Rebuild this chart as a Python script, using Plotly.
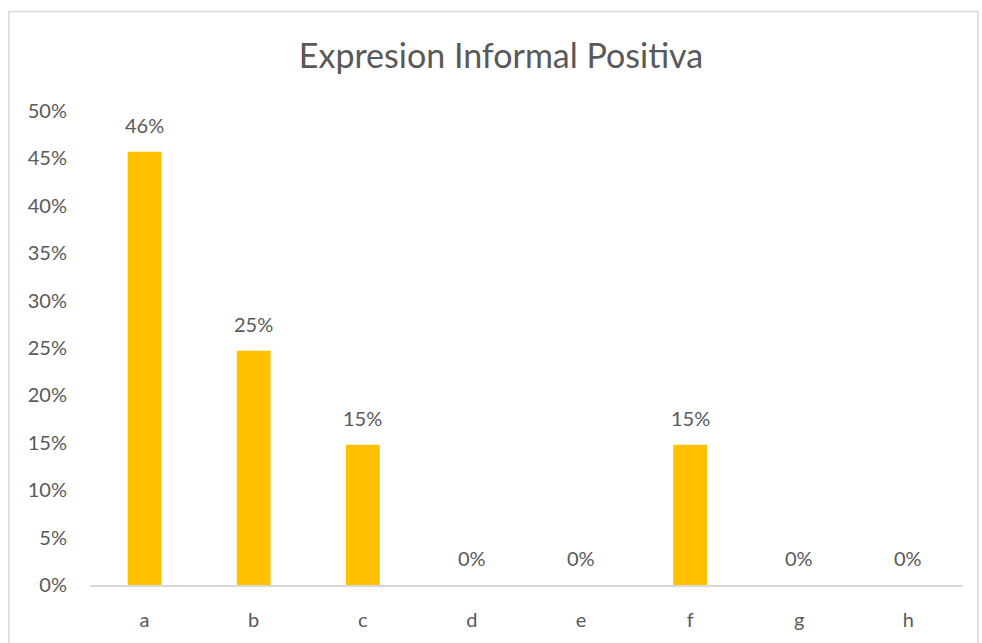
import plotly.graph_objects as go

# Categories and their share of responses
categories = ["a", "b", "c", "d", "e", "f", "g", "h"]
shares = [0.457, 0.247, 0.148, 0.0, 0.0, 0.148, 0.0, 0.0]

title_text = "Expresion Informal Positiva"
y_ticks = [0.0, 0.05, 0.10, 0.15, 0.20, 0.25, 0.30, 0.35, 0.40, 0.45, 0.50]

TEXT = "#595959"
LINE = "#D9D9D9"
BAR = "#FFC000"
FONT = "Lato, 'Open Sans', sans-serif"

fig = go.Figure(
    go.Bar(
        x=categories,
        y=shares,
        marker=dict(color=BAR, line=dict(width=0)),
        hoverinfo="skip",
    )
)

# Value labels above each bar
for cat, val in zip(categories, shares):
    fig.add_annotation(
        x=cat, y=val, text=f"{val:.0%}", showarrow=False,
        yanchor="bottom", yshift=13,
        font=dict(family=FONT, size=20, color=TEXT),
    )

# Outer chart border
fig.add_shape(
    type="rect", xref="paper", yref="paper",
    x0=-0.0928, x1=1.0172, y0=-0.16, y1=1.21,
    line=dict(color=LINE, width=1.5), fillcolor="rgba(0,0,0,0)", layer="below",
)

fig.update_layout(
    width=982, height=643,
    margin=dict(l=90, r=19, t=111, b=56),
    paper_bgcolor="white", plot_bgcolor="white",
    bargap=0.69,
    showlegend=False,
    title=dict(
        text=title_text, x=501 / 982, xanchor="center", xref="container",
        y=1 - 56 / 643, yanchor="middle",
        font=dict(family=FONT, size=34, color=TEXT),
    ),
    font=dict(family=FONT, color=TEXT),
)

fig.update_xaxes(
    showline=True, linecolor=LINE, linewidth=1.5,
    showgrid=False, ticks="", ticklabelstandoff=16,
    tickfont=dict(family=FONT, size=20, color=TEXT),
    fixedrange=True,
)
fig.update_yaxes(
    range=[0, 0.5], tickvals=y_ticks, tickformat=".0%",
    showline=False, showgrid=False, zeroline=False, ticks="",
    ticklabelstandoff=22,
    tickfont=dict(family=FONT, size=20, color=TEXT),
    fixedrange=True,
)

fig.write_html("out.html", config={"displayModeBar": False})
